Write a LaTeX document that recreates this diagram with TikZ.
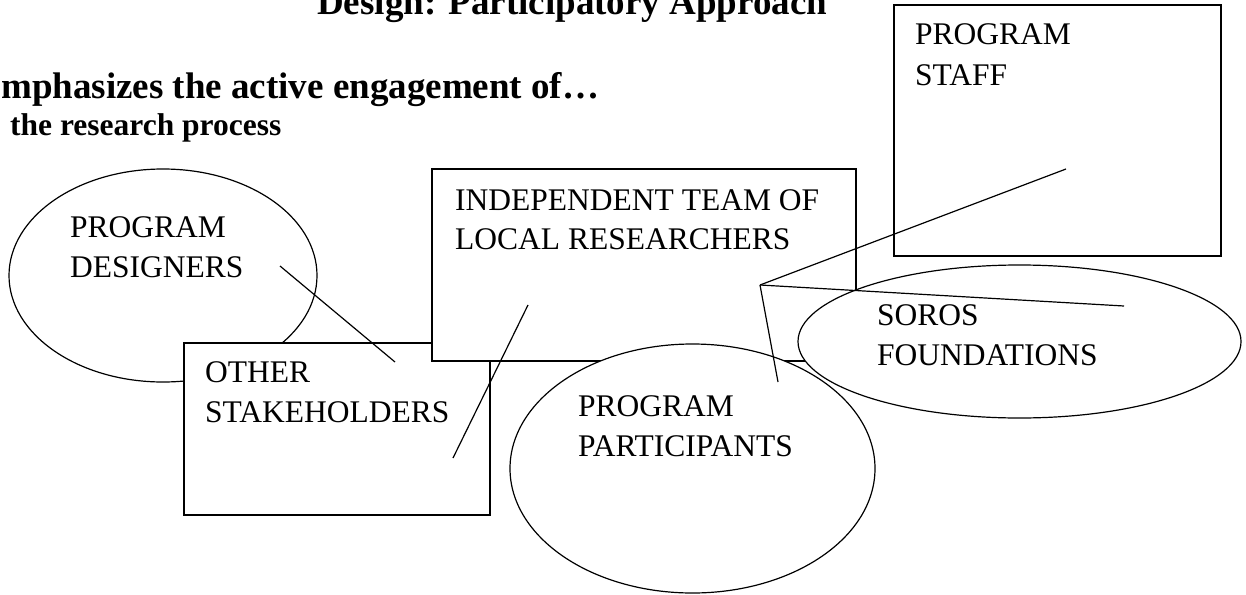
\documentclass[tikz,border=0pt]{standalone}
\usepackage{fontspec}
\setmainfont{Liberation Serif}
\usetikzlibrary{shapes.geometric}
\tikzset{
  shapebox/.style={draw, fill=white, line width=1.2pt, inner sep=0pt, rectangle},
  shapeell/.style={draw, fill=white, line width=1.2pt, inner sep=0pt, ellipse},
  lbl/.style={anchor=base west, inner sep=0pt, font=\fontsize{31.5}{39}\selectfont},
  bigtitle/.style={anchor=base west, inner sep=0pt, font=\fontsize{37}{44}\selectfont\bfseries},
  subtitle/.style={anchor=base west, inner sep=0pt, font=\fontsize{31.5}{38}\selectfont\bfseries},
  link/.style={line width=1.2pt}
}
\begin{document}
\begin{tikzpicture}[x=1pt,y=-1pt]
\useasboundingbox (0,0) rectangle (1246,594);
\clip (0,0) rectangle (1246,594);
\fill[white] (0,0) rectangle (1246,594);
% titles
\node[bigtitle] (title) at (317,15) {Design: Participatory Approach};
\node[bigtitle] (emph) at (1,98) {mphasizes the active engagement of…};
\node[subtitle] (proc) at (10,135) {the research process};
% shapes in stacking order
\node[shapeell, minimum width=308pt, minimum height=213pt] (designers) at (163,275.5) {};
\node[shapebox, minimum width=306pt, minimum height=172pt] (other) at (337,429) {};
\node[shapebox, minimum width=424pt, minimum height=192pt] (indep) at (644,265) {};
\node[shapeell, minimum width=365pt, minimum height=249pt] (partic) at (692.5,468.5) {};
\node[shapeell, minimum width=443pt, minimum height=153pt] (soros) at (1019.5,341.5) {};
\node[shapebox, minimum width=327pt, minimum height=251pt] (staff) at (1057.5,130.5) {};
% labels
\node[lbl] (staffA) at (915,45) {PROGRAM};
\node[lbl] (staffB) at (915,85) {STAFF};
\node[lbl] (indepA) at (455,210) {INDEPENDENT TEAM OF};
\node[lbl] (indepB) at (455,249) {LOCAL RESEARCHERS};
\node[lbl] (desA) at (70,237) {PROGRAM};
\node[lbl] (desB) at (70,277) {DESIGNERS};
\node[lbl] (othA) at (205,382) {OTHER};
\node[lbl] (othB) at (205,422) {STAKEHOLDERS};
\node[lbl] (parA) at (578,416) {PROGRAM};
\node[lbl] (parB) at (578,456) {PARTICIPANTS};
\node[lbl] (sorA) at (877,325) {SOROS};
\node[lbl] (sorB) at (877,365) {FOUNDATIONS};
% connector end points
\coordinate (desEnd) at (280,266);
\coordinate (othEnd) at (395,362);
\coordinate (indEnd) at (528,305);
\coordinate (othEnd2) at (453,458);
\coordinate (hub) at (760,285);
\coordinate (staffEnd) at (1066,169);
\coordinate (sorEnd) at (1124,306);
\coordinate (parEnd) at (778,382);
% connectors
\draw[link] (desEnd) -- (othEnd);
\draw[link] (indEnd) -- (othEnd2);
\draw[link] (hub) -- (staffEnd);
\draw[link] (hub) -- (sorEnd);
\draw[link] (hub) -- (parEnd);
\end{tikzpicture}
\end{document}
